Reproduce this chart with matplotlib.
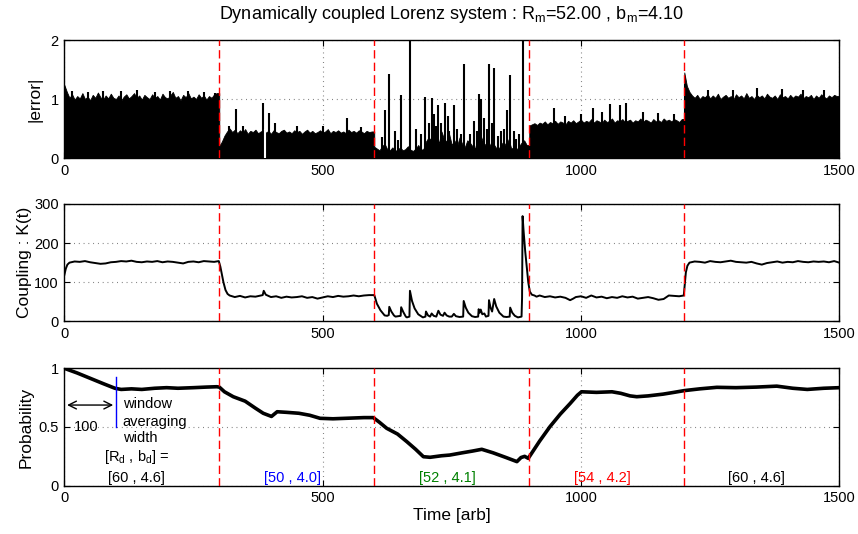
import numpy as np
import matplotlib
matplotlib.use('Agg')
import matplotlib.pyplot as plt
from matplotlib.patches import FancyArrowPatch

plt.rcParams['font.family'] = ['Liberation Sans', 'DejaVu Sans']
plt.rcParams['mathtext.default'] = 'regular'

# ---------------- data ----------------
time_ticks = [0, 500, 1000, 1500]
switch_times = [300, 600, 900, 1200]

# |error| upper envelope, one value per 5 time units in each 300-unit segment
err_seg_starts = [0, 300, 600, 900, 1200]
err_env_a = [1.24, 1.12, 1.02, 1.08, 0.99, 1.05, 1.01, 1.10, 1.00, 1.04, 0.98, 1.07, 1.02, 1.11, 1.03, 0.99,
             1.06, 1.01, 1.09, 1.02, 1.00, 1.06, 0.97, 1.04, 1.08, 1.01, 1.05, 1.10, 1.02, 1.06, 0.99, 1.07,
             1.03, 1.00, 1.08, 1.02, 1.05, 0.99, 1.09, 1.03, 1.01, 1.06, 1.12, 1.02, 1.05, 0.98, 1.07, 1.03,
             1.10, 1.01, 1.04, 1.00, 1.08, 1.02, 1.06, 0.99, 1.05, 1.02, 1.08, 1.10]
err_env_b = [0.20, 0.28, 0.38, 0.45, 0.50, 0.44, 0.48, 0.42, 0.47, 0.43, 0.49, 0.41, 0.46, 0.44, 0.48, 0.42,
             0.45, 0.47, 0.43, 0.46, 0.41, 0.47, 0.44, 0.42, 0.46, 0.48, 0.43, 0.45, 0.42, 0.47, 0.44, 0.46,
             0.41, 0.45, 0.48, 0.43, 0.46, 0.42, 0.44, 0.47, 0.43, 0.45, 0.49, 0.42, 0.46, 0.44, 0.47, 0.43,
             0.45, 0.42, 0.48, 0.44, 0.46, 0.43, 0.47, 0.45, 0.42, 0.46, 0.44, 0.45]
err_env_c = [0.19, 0.16, 0.13, 0.20, 0.24, 0.15, 0.13, 0.18, 0.12, 0.14, 0.18, 0.13, 0.15, 0.20, 0.14, 0.12,
             0.16, 0.22, 0.14, 0.15, 0.28, 0.35, 0.30, 0.42, 0.38, 0.25, 0.45, 0.32, 0.28, 0.40, 0.22, 0.30,
             0.20, 0.35, 0.24, 0.18, 0.30, 0.26, 0.20, 0.16, 0.35, 0.40, 0.28, 0.22, 0.30, 0.20, 0.25, 0.18,
             0.15, 0.22, 0.28, 0.20, 0.32, 0.16, 0.18, 0.14, 0.20, 0.26, 0.30, 0.22]
err_env_d = [0.55, 0.57, 0.59, 0.56, 0.60, 0.58, 0.62, 0.57, 0.61, 0.59, 0.63, 0.58, 0.62, 0.60, 0.57, 0.63,
             0.60, 0.64, 0.59, 0.62, 0.65, 0.60, 0.63, 0.61, 0.66, 0.60, 0.64, 0.62, 0.59, 0.65, 0.61, 0.63,
             0.67, 0.60, 0.64, 0.62, 0.66, 0.61, 0.63, 0.65, 0.60, 0.64, 0.62, 0.67, 0.61, 0.65, 0.63, 0.60,
             0.66, 0.62, 0.64, 0.61, 0.67, 0.63, 0.65, 0.62, 0.66, 0.64, 0.61, 0.66]
err_env_e = [1.45, 1.22, 1.12, 1.06, 1.02, 1.07, 1.00, 1.05, 1.03, 1.08, 1.01, 1.06, 1.02, 1.09, 1.00, 1.04,
             1.07, 1.02, 1.05, 0.99, 1.08, 1.03, 1.06, 1.01, 1.10, 1.02, 1.05, 1.00, 1.07, 1.03, 1.06, 1.01,
             1.09, 1.04, 1.02, 1.06, 1.00, 1.08, 1.03, 1.05, 1.01, 1.07, 1.02, 1.06, 1.04, 1.09, 1.01, 1.05,
             1.03, 1.07, 1.00, 1.06, 1.02, 1.08, 1.04, 1.01, 1.06, 1.03, 1.07, 1.05]
err_peak_t = [15, 45, 75, 110, 140, 175, 205, 240, 270, 292,
              318, 333, 345, 384, 397, 408, 450, 500, 548, 575,
              615, 620, 628, 640, 645, 652, 669, 680, 690, 699, 705, 711, 716, 720, 724, 730, 736, 742, 745,
              754, 760, 767, 773, 785, 793, 798, 802, 806, 813, 818, 822, 828, 832, 840, 845, 852, 857, 863,
              870, 875, 880, 887,
              948, 970, 1000, 1024, 1040, 1056, 1075, 1088, 1120, 1150, 1180,
              1202, 1245, 1295, 1340, 1390, 1430, 1470]
err_peak_v = [1.13, 1.12, 1.14, 1.13, 1.15, 1.12, 1.14, 1.13, 1.12, 1.10,
              0.55, 0.83, 0.55, 0.93, 0.77, 0.60, 0.55, 0.54, 0.67, 0.52,
              0.35, 0.81, 1.42, 0.45, 0.30, 1.07, 2.00, 0.50, 0.40, 1.04, 0.60, 1.01, 0.75, 0.55, 0.89, 0.60,
              0.94, 0.72, 0.45, 0.89, 0.50, 0.40, 1.59, 0.40, 0.62, 0.45, 1.08, 1.00, 0.67, 0.50, 1.59, 0.60,
              1.52, 0.38, 0.45, 0.50, 0.81, 1.40, 0.45, 0.33, 0.40, 2.00,
              0.84, 0.72, 0.74, 0.85, 0.78, 0.91, 0.89, 0.94, 0.78, 0.76, 0.75,
              1.25, 1.15, 1.16, 1.18, 1.17, 1.16, 1.15]
err_gap_t = [388]

# coupling K(t)
k_t = [0, 3, 6, 10, 20, 30, 40, 50, 60, 70, 80, 90, 100, 110, 120, 130, 140, 150, 160, 170, 180, 190, 200,
       210, 220, 230, 240, 250, 260, 270, 280, 290, 299,
       302, 305, 308, 312, 316, 320, 330, 340, 350, 360, 370, 380, 384, 386, 390, 400, 410, 420, 430, 440,
       450, 460, 470, 480, 490, 500, 510, 520, 530, 540, 550, 560, 570, 580, 590, 600,
       605, 612, 620, 625, 628, 629, 633, 638, 641, 651, 652, 656, 661, 663, 668, 669, 673, 678, 685, 694,
       699, 700, 704, 708, 711, 715, 720, 724, 728, 733, 736, 740, 745, 750, 754, 758, 765, 772, 773, 777,
       782, 789, 795, 801, 802, 804, 806, 809, 813, 816, 821, 822, 825, 828, 832, 836, 842, 850, 856, 862,
       863, 867, 872, 878, 885, 886, 887, 889, 892, 895, 898, 901, 905, 910, 914, 920, 930, 940, 950, 960,
       970, 979, 985, 990, 1000, 1010, 1020, 1030, 1040, 1050, 1060, 1070, 1080, 1090, 1100, 1110, 1120,
       1130, 1140, 1150, 1160, 1170, 1180, 1190, 1199, 1201, 1203, 1206, 1210, 1220, 1230, 1240, 1250,
       1260, 1270, 1280, 1290, 1300, 1310, 1320, 1330, 1340, 1350, 1360, 1370, 1380, 1390, 1400, 1410,
       1420, 1430, 1440, 1450, 1460, 1470, 1480, 1490, 1500]
k_v = [118, 135, 145, 150, 153, 152, 154, 151, 149, 147, 148, 151, 152, 154, 153, 155, 152, 151, 153, 152,
       154, 151, 153, 152, 150, 148, 152, 153, 151, 154, 153, 152, 154,
       140, 120, 100, 80, 70, 66, 62, 65, 61, 64, 63, 66, 67, 78, 68, 62, 64, 60, 63, 61,
       62, 64, 60, 62, 58, 61, 64, 62, 65, 63, 64, 66, 64, 66, 67, 67,
       45, 28, 15, 14, 16, 37, 25, 15, 12, 14, 36, 24, 12, 10, 12, 78, 52, 33, 18, 10,
       12, 25, 15, 12, 20, 14, 12, 27, 17, 14, 22, 15, 12, 12, 19, 13, 11, 12, 52, 35,
       22, 13, 11, 12, 31, 22, 30, 18, 20, 12, 14, 54, 35, 25, 57, 38, 22, 12, 11, 12,
       35, 22, 14, 10, 12, 60, 269, 230, 180, 140, 100, 76, 68, 66, 63, 66, 62, 64, 61, 63,
       60, 54, 58, 62, 64, 60, 66, 61, 63, 59, 62, 60, 64, 61, 63, 58, 60,
       62, 59, 55, 57, 66, 65, 64, 66, 95, 125, 142, 150, 153, 152, 150, 154,
       152, 151, 153, 155, 152, 151, 150, 152, 148, 145, 149, 151, 153, 150, 152, 151,
       154, 152, 151, 153, 152, 153, 151, 154, 150]

# probability
p_t = [0, 25, 50, 75, 98, 110, 130, 150, 175, 198, 220, 250, 275, 295, 300, 310, 327, 350, 370, 385, 401,
       412, 430, 454, 475, 495, 520, 550, 580, 598, 610, 624, 645, 663, 680, 695, 708, 730, 746, 770, 790,
       808, 830, 855, 876, 884, 891, 898, 920, 940, 960, 979, 993, 1001, 1030, 1060, 1077, 1095, 1108,
       1130, 1159, 1180, 1200, 1230, 1263, 1300, 1340, 1379, 1410, 1438, 1470, 1500]
p_v = [1.0, 0.96, 0.915, 0.87, 0.83, 0.82, 0.825, 0.82, 0.83, 0.835, 0.83, 0.835, 0.84, 0.843, 0.84, 0.80,
       0.758, 0.72, 0.66, 0.617, 0.59, 0.63, 0.625, 0.617, 0.60, 0.574, 0.57, 0.575, 0.58, 0.58, 0.54,
       0.489, 0.44, 0.375, 0.31, 0.247, 0.242, 0.255, 0.261, 0.28, 0.295, 0.31, 0.28, 0.24, 0.205, 0.24,
       0.25, 0.233, 0.38, 0.503, 0.61, 0.70, 0.77, 0.80, 0.795, 0.80, 0.787, 0.765, 0.758, 0.765, 0.78,
       0.795, 0.81, 0.825, 0.838, 0.835, 0.84, 0.848, 0.83, 0.82, 0.83, 0.835]

segment_labels = ['[60 , 4.6]', '[50 , 4.0]', '[52 , 4.1]', '[54 , 4.2]', '[60 , 4.6]']
segment_label_t = [140, 441, 742, 1042, 1340]
segment_colors = ['black', 'blue', 'green', 'red', 'black']
window_width = 100

# ---------------- figure ----------------
W, H = 858, 534
fig = plt.figure(figsize=(W / 100, H / 100), dpi=100)

def frac_axes(x0, y0, x1, y1):
    return fig.add_axes([x0 / W, 1 - y1 / H, (x1 - x0) / W, (y1 - y0) / H])

ax1 = frac_axes(64.3, 40, 839.3, 158)
ax2 = frac_axes(64.3, 204, 839.3, 321.3)
ax3 = frac_axes(64.3, 368.3, 839.3, 485.7)

for ax in (ax1, ax2, ax3):
    ax.set_xlim(0, 1500)
    ax.set_xticks(time_ticks)
    ax.tick_params(direction='in', top=True, right=True, length=4.5, width=0.8,
                   labelsize=10.5, pad=4, colors='black')
    for s in ax.spines.values():
        s.set_linewidth(1.0)
    ax.grid(True, color='0.45', linewidth=0.8, dashes=(0.8, 3.5))
    ax.set_axisbelow(True)
    for ts in switch_times:
        ax.axvline(ts, color='red', linewidth=1.0, dashes=(6, 3), zorder=5)

# top panel
et_all, ev_all = [], []
for s, env in zip(err_seg_starts, [err_env_a, err_env_b, err_env_c, err_env_d, err_env_e]):
    t = s + 5 * np.arange(len(env))
    et_all.extend(list(t) + [s + 299.9])
    ev_all.extend(list(env) + [env[-1]])
ax1.fill_between(et_all, 0, ev_all, color='black', linewidth=0.6, edgecolor='black', zorder=3)
ax1.vlines(err_peak_t, 0, err_peak_v, color='black', linewidth=1.5, zorder=3)
ax1.vlines(err_gap_t, 0, 0.5, color='white', linewidth=1.5, zorder=4)
ax1.set_ylim(0, 2)
ax1.set_yticks([0, 1, 2])
ax1.set_ylabel('|error|', fontsize=12.5)
ax1.yaxis.set_label_coords(-0.0275, 0.5)

# middle
ax2.plot(k_t, k_v, color='black', linewidth=1.4, zorder=3)
ax2.set_ylim(0, 300)
ax2.set_yticks([0, 100, 200, 300])
ax2.set_ylabel('Coupling : K(t)', fontsize=12.5)
ax2.yaxis.set_label_coords(-0.0417, 0.5)

# bottom
ax3.plot(p_t, p_v, color='black', linewidth=2.6, zorder=3)
ax3.set_ylim(0, 1)
ax3.set_yticks([0, 0.5, 1])
ax3.set_yticklabels(['0', '0.5', '1'])
ax3.set_ylabel('Probability', fontsize=12.5)
ax3.yaxis.set_label_coords(-0.040, 0.5)
ax3.set_xlabel('Time [arb]', fontsize=12.5, labelpad=2)

ax3.plot([window_width, window_width], [0.5, 0.93], color='blue', linewidth=1.0, zorder=4)
arr = FancyArrowPatch((0, 0.687), (window_width, 0.687), arrowstyle='<->', mutation_scale=14,
                      color='black', linewidth=1.0, zorder=4)
ax3.add_patch(arr)
ax3.text(43, 0.5, '100', fontsize=10.5, ha='center', va='center')
ax3.text(113, 0.70, 'window', fontsize=10.5, ha='left', va='center')
ax3.text(113, 0.545, 'averaging', fontsize=10.5, ha='left', va='center')
ax3.text(113, 0.405, 'width', fontsize=10.5, ha='left', va='center')
ax3.text(140, 0.247, '[R$_{d}$ , b$_{d}$] =', fontsize=10.5, ha='center', va='center')
for lab, lt, lc in zip(segment_labels, segment_label_t, segment_colors):
    ax3.text(lt, 0.066, lab, fontsize=10.5, ha='center', va='center', color=lc)

fig.text(451.8 / W, 1 - 19.3 / H,
         'Dynamically coupled Lorenz system : R$_{m}$=52.00 , b$_{m}$=4.10',
         fontsize=13, ha='center', va='baseline')

fig.savefig('out.png', dpi=100)
